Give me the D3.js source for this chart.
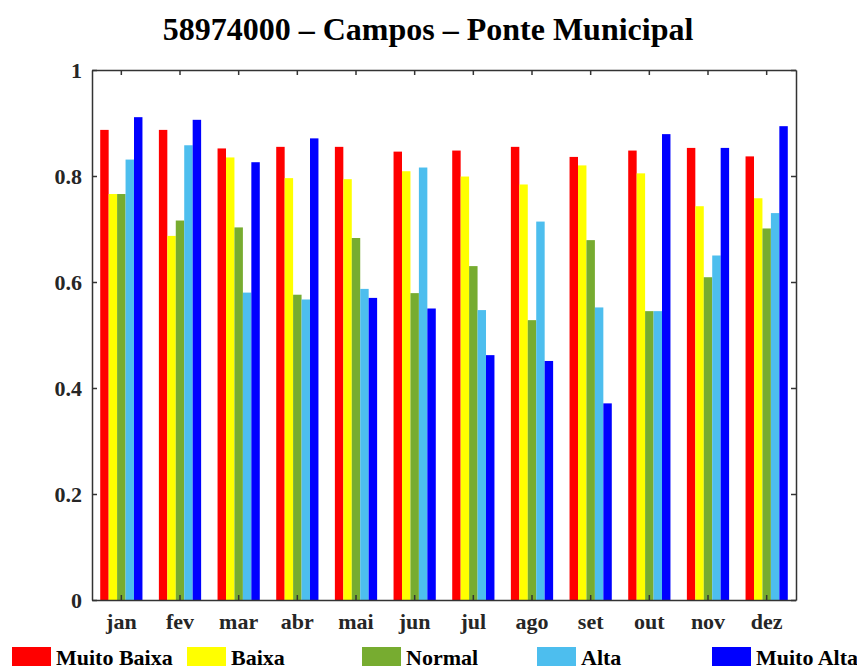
<!DOCTYPE html>
<html lang="en">
<head>
<meta charset="utf-8">
<title>58974000 - Campos - Ponte Municipal</title>
<style type="text/css">
  body { margin: 0; background: #fff; }
  text { font-family: "Liberation Serif", "Times New Roman", serif; font-weight: bold; fill: #262626; }
</style>
</head>
<body>
<script src="https://cdn.jsdelivr.net/npm/d3@7"></script>
<script>

var months = ["jan", "fev", "mar", "abr", "mai", "jun", "jul", "ago", "set", "out", "nov", "dez"];
var seriesNames = ["Muito Baixa", "Baixa", "Normal", "Alta", "Muito Alta"];
var seriesColors = ["#ff0000", "#ffff00", "#77ac30", "#4dbeee", "#0000ff"];

var muitoBaixa = [0.887, 0.887, 0.852, 0.855, 0.855, 0.846, 0.848, 0.855, 0.836, 0.848, 0.853, 0.837];
var baixa      = [0.766, 0.687, 0.835, 0.796, 0.794, 0.809, 0.799, 0.784, 0.820, 0.805, 0.743, 0.758];
var normal     = [0.766, 0.716, 0.703, 0.576, 0.683, 0.579, 0.630, 0.528, 0.679, 0.545, 0.609, 0.701];
var alta       = [0.831, 0.858, 0.580, 0.567, 0.587, 0.816, 0.547, 0.714, 0.552, 0.545, 0.650, 0.730];
var muitoAlta  = [0.911, 0.906, 0.826, 0.871, 0.570, 0.550, 0.462, 0.451, 0.371, 0.879, 0.853, 0.894];

var yTicks = [0, 0.2, 0.4, 0.6, 0.8, 1];

var series = [muitoBaixa, baixa, normal, alta, muitoAlta];

var w = 857, h = 670;
var plotLeft = 92, plotRight = 796, plotTop = 70, plotBottom = 600;

var svg = d3.select("body").append("svg")
    .attr("width", w)
    .attr("height", h);

var x = d3.scaleBand().domain(months).range([plotLeft, plotRight]).paddingInner(0.28).paddingOuter(0.14);
var xSub = d3.scaleBand().domain(d3.range(seriesNames.length)).range([0, x.bandwidth()]);
var y = d3.scaleLinear().domain([0, 1]).range([plotBottom, plotTop]);

// bars
var groups = svg.selectAll("g.month")
    .data(months)
    .enter().append("g")
    .attr("class", "month")
    .attr("transform", function(d) { return "translate(" + x(d) + ",0)"; });

groups.selectAll("rect")
    .data(function(d, i) { return series.map(function(s, j) { return {j: j, v: s[i]}; }); })
    .enter().append("rect")
    .attr("x", function(d) { return xSub(d.j); })
    .attr("width", xSub.bandwidth())
    .attr("y", function(d) { return y(d.v); })
    .attr("height", function(d) { return y(0) - y(d.v); })
    .attr("fill", function(d) { return seriesColors[d.j]; });

// axes (box with inward ticks)
var tl = 5;
var axisColor = "#333";

var yAxis = d3.axisLeft(y).tickValues(yTicks).tickSizeInner(-tl).tickSizeOuter(0).tickPadding(10)
    .tickFormat(function(d) { return d === 0 || d === 1 ? d3.format("d")(d) : d3.format(".1f")(d); });
var gy = svg.append("g").attr("transform", "translate(" + plotLeft + ",0)").call(yAxis);

var yAxisR = d3.axisRight(y).tickValues(yTicks).tickSizeInner(-tl).tickSizeOuter(0).tickFormat("");
var gyr = svg.append("g").attr("transform", "translate(" + plotRight + ",0)").call(yAxisR);

var xAxis = d3.axisBottom(x).tickSizeInner(-tl).tickSizeOuter(0).tickPadding(13);
var gx = svg.append("g").attr("transform", "translate(0," + plotBottom + ")").call(xAxis);

var xAxisT = d3.axisTop(x).tickSizeInner(-tl).tickSizeOuter(0).tickFormat("");
var gxt = svg.append("g").attr("transform", "translate(0," + plotTop + ")").call(xAxisT);

[gy, gyr, gx, gxt].forEach(function(g) {
    g.selectAll("path").attr("stroke", axisColor).attr("stroke-width", 1.5);
    g.selectAll("line").attr("stroke", axisColor).attr("stroke-width", 1.5);
    g.selectAll("text").attr("font-size", 22).attr("font-family", null).attr("fill", "#262626");
});
gx.selectAll("text").attr("dy", "0.71em");

// title
svg.append("text")
    .attr("x", 428)
    .attr("y", 40)
    .attr("text-anchor", "middle")
    .attr("font-size", 32)
    .style("fill", "#000")
    .text("58974000 \u2013 Campos \u2013 Ponte Municipal");

// legend
var legend = svg.selectAll("g.legend")
    .data(seriesNames)
    .enter().append("g")
    .attr("class", "legend")
    .attr("transform", function(d, i) { return "translate(" + (12 + i * 175) + ",647)"; });

legend.append("rect")
    .attr("width", 39)
    .attr("height", 19)
    .attr("fill", function(d, i) { return seriesColors[i]; });

legend.append("text")
    .attr("x", 44)
    .attr("y", 18)
    .attr("font-size", 22)
    .style("fill", "#000")
    .text(function(d) { return d; });

</script>
</body>
</html>
